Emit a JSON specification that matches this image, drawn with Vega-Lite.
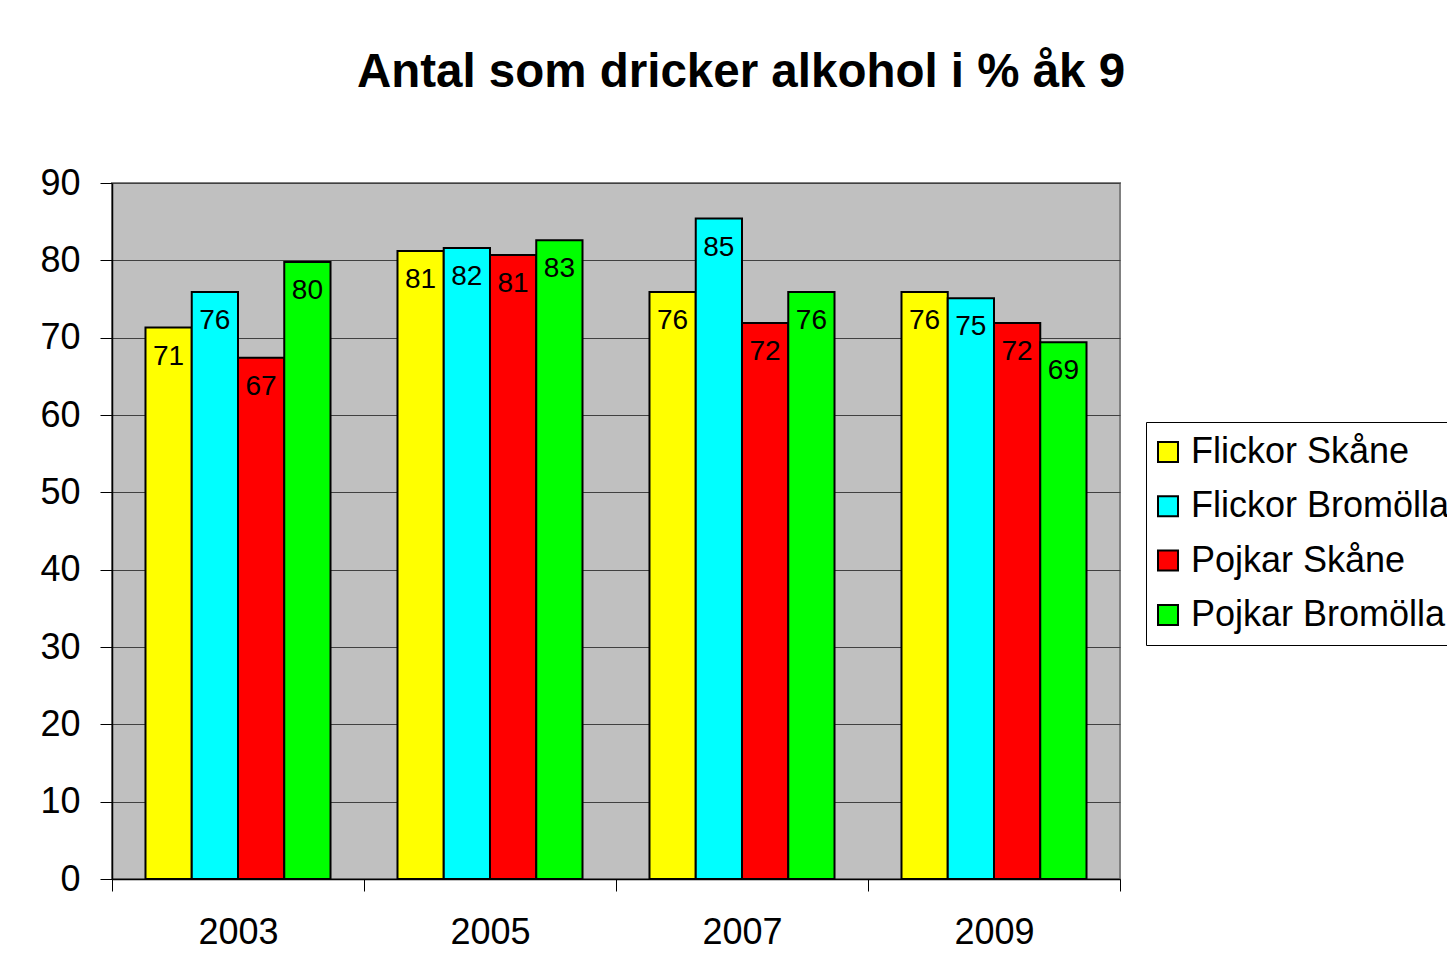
{
  "$schema": "https://vega.github.io/schema/vega-lite/v6.json",
  "width": 1008,
  "height": 696,
  "autosize": {"type": "none"},
  "padding": {"left": 112, "top": 183, "right": 327, "bottom": 99},
  "background": "white",
  "title": {
    "text": "Antal som dricker alkohol i % åk 9",
    "font": "Liberation Sans",
    "fontSize": 47.5,
    "fontWeight": "bold",
    "color": "black",
    "anchor": "middle",
    "frame": "group",
    "dx": 125,
    "offset": 31,
    "baseline": "alphabetic"
  },
  "config": {
    "font": "Liberation Sans",
    "view": {"fill": "#c0c0c0", "stroke": "#808080", "strokeWidth": 2}
  },
  "data": {
    "values": [
      {"year": "2003", "group": "Flickor Skåne", "value": 71.3},
      {"year": "2003", "group": "Flickor Bromölla", "value": 75.9},
      {"year": "2003", "group": "Pojkar Skåne", "value": 67.4},
      {"year": "2003", "group": "Pojkar Bromölla", "value": 79.8},
      {"year": "2005", "group": "Flickor Skåne", "value": 81.2},
      {"year": "2005", "group": "Flickor Bromölla", "value": 81.6},
      {"year": "2005", "group": "Pojkar Skåne", "value": 80.7},
      {"year": "2005", "group": "Pojkar Bromölla", "value": 82.6},
      {"year": "2007", "group": "Flickor Skåne", "value": 75.9},
      {"year": "2007", "group": "Flickor Bromölla", "value": 85.4},
      {"year": "2007", "group": "Pojkar Skåne", "value": 71.9},
      {"year": "2007", "group": "Pojkar Bromölla", "value": 75.9},
      {"year": "2009", "group": "Flickor Skåne", "value": 75.9},
      {"year": "2009", "group": "Flickor Bromölla", "value": 75.1},
      {"year": "2009", "group": "Pojkar Skåne", "value": 71.9},
      {"year": "2009", "group": "Pojkar Bromölla", "value": 69.4}
    ]
  },
  "encoding": {
    "x": {
      "field": "year",
      "type": "nominal",
      "scale": {"paddingInner": 0, "paddingOuter": 0},
      "axis": {
        "title": null,
        "labelAngle": 0,
        "tickBand": "extent",
        "tickSize": 12,
        "tickColor": "black",
        "domainColor": "black",
        "domainWidth": 1.5,
        "labelFontSize": 36,
        "labelColor": "black",
        "labelPadding": 24,
        "grid": false
      }
    },
    "xOffset": {
      "field": "group",
      "type": "nominal",
      "sort": ["Flickor Skåne", "Flickor Bromölla", "Pojkar Skåne", "Pojkar Bromölla"],
      "scale": {"paddingInner": 0, "paddingOuter": 0.724}
    },
    "y": {
      "field": "value",
      "type": "quantitative",
      "scale": {"domain": [0, 90]},
      "axis": {
        "title": null,
        "values": [0, 10, 20, 30, 40, 50, 60, 70, 80, 90],
        "tickSize": 12,
        "tickColor": "black",
        "domainColor": "black",
        "domainWidth": 1.5,
        "labelFontSize": 36,
        "labelColor": "black",
        "labelPadding": 20,
        "grid": true,
        "gridColor": "#404040",
        "gridWidth": 1
      }
    }
  },
  "layer": [
    {
      "mark": {"type": "bar", "stroke": "black", "strokeWidth": 2},
      "encoding": {
        "color": {
          "field": "group",
          "type": "nominal",
          "scale": {
            "domain": ["Flickor Skåne", "Flickor Bromölla", "Pojkar Skåne", "Pojkar Bromölla"],
            "range": ["#ffff00", "#00ffff", "#ff0000", "#00ff00"]
          },
          "legend": {
            "orient": "none",
            "legendX": 1034,
            "legendY": 239,
            "title": null,
            "symbolType": "square",
            "symbolSize": 400,
            "symbolStrokeColor": "black",
            "symbolStrokeWidth": 2,
            "symbolOpacity": 1,
            "symbolOffset": -8,
            "labelFontSize": 36,
            "labelColor": "black",
            "labelOffset": 5,
            "rowPadding": 18.3,
            "padding": 12,
            "strokeColor": "black",
            "fillColor": "white",
            "labelLimit": 400
          }
        }
      }
    },
    {
      "mark": {"type": "text", "baseline": "middle", "dy": 29, "fontSize": 28, "color": "black"},
      "encoding": {
        "text": {"field": "value", "type": "quantitative", "format": ".0f"}
      }
    }
  ]
}
